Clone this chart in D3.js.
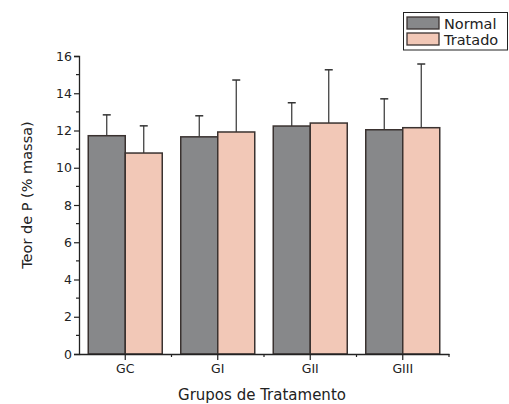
<!DOCTYPE html>
<html><head><meta charset="utf-8">
<script src="https://cdn.jsdelivr.net/npm/d3@7"></script>
<style>body{margin:0;background:#fff}svg{display:block}text{font-family:"DejaVu Sans",sans-serif;fill:#222}</style>
</head><body><svg id="c" width="509" height="404"></svg>
<script>
const categories = ["GC","GI","GII","GIII"];
const seriesNames = ["Normal","Tratado"];
const normalValues = [11.72, 11.66, 12.24, 12.04];
const normalErrors = [1.12, 1.13, 1.25, 1.66];
const tratadoValues = [10.79, 11.92, 12.40, 12.15];
const tratadoErrors = [1.46, 2.79, 2.86, 3.42];
const yTicks = [0,2,4,6,8,10,12,14,16];
const colors = ["#87888a","#f2c8b7"];

const svg = d3.select("#c");
const L = 79, R = 449, T = 56, B = 354;
const x = d3.scaleBand().domain(categories).range([L, R]).paddingInner(0).paddingOuter(0);
const xs = d3.scaleBand().domain(seriesNames).range([0, x.bandwidth()]).paddingInner(0).paddingOuter(0.25);
const y = d3.scaleLinear().domain([0,16]).range([B, T]);

const data = categories.map((c,i)=>({c, vals:[
  {s:"Normal", v:normalValues[i], e:normalErrors[i]},
  {s:"Tratado", v:tratadoValues[i], e:tratadoErrors[i]}]}));

const g = svg.append("g");
const grp = g.selectAll("g.grp").data(data).join("g").attr("transform", d=>`translate(${x(d.c)},0)`);
grp.selectAll("g.err").data(d=>d.vals).join("g").each(function(d){
  const cx = xs(d.s) + xs.bandwidth()/2;
  const s = d3.select(this);
  s.append("line").attr("x1",cx).attr("x2",cx).attr("y1",y(d.v)).attr("y2",y(d.v+d.e)).attr("stroke","#333").attr("stroke-width",1.2);
  s.append("line").attr("x1",cx-4).attr("x2",cx+4).attr("y1",y(d.v+d.e)).attr("y2",y(d.v+d.e)).attr("stroke","#333").attr("stroke-width",1.5);
});
grp.selectAll("rect").data(d=>d.vals).join("rect")
  .attr("x", d=>xs(d.s)).attr("width", xs.bandwidth())
  .attr("y", d=>y(d.v)).attr("height", d=>B - y(d.v))
  .attr("fill", (d,i)=>colors[i]).attr("stroke","#3a3230").attr("stroke-width",1.5);

const yAx = svg.append("g").attr("transform",`translate(${L},0)`)
  .call(d3.axisLeft(y).tickValues(yTicks).tickSize(5).tickPadding(2).tickFormat(d3.format("d")));
yAx.select(".domain").attr("stroke","#222").attr("stroke-width",1.3);
yAx.selectAll(".tick line").attr("stroke","#222").attr("stroke-width",1.2);
yAx.selectAll("text").style("font-size","12.5px").attr("fill","#222");
const yMinor = d3.range(1,16,2);
svg.append("g").selectAll("line").data(yMinor).join("line")
  .attr("x1",L-3).attr("x2",L).attr("y1",d=>y(d)).attr("y2",d=>y(d)).attr("stroke","#222").attr("stroke-width",1.2);

const xAx = svg.append("g").attr("transform",`translate(0,${B})`)
  .call(d3.axisBottom(x).tickSize(6).tickSizeOuter(0).tickPadding(4));
xAx.select(".domain").attr("stroke","#222").attr("stroke-width",1.3);
xAx.selectAll(".tick line").attr("stroke","#222").attr("stroke-width",1.2);
xAx.selectAll("text").style("font-size","12.5px").attr("fill","#222");
const xMinor = categories.map(c=>x(c)).slice(1).concat([R]);
svg.append("g").selectAll("line").data(xMinor).join("line")
  .attr("x1",d=>d).attr("x2",d=>d).attr("y1",B).attr("y2",B+3).attr("stroke","#222").attr("stroke-width",1.2);

svg.append("text").attr("x",262).attr("y",400).attr("text-anchor","middle").style("font-size","15px").text("Grupos de Tratamento");
svg.append("text").attr("transform",`translate(32,195) rotate(-90)`).attr("text-anchor","middle").style("font-size","14.5px").text("Teor de P (% massa)");

const lg = svg.append("g");
lg.append("rect").attr("x",403.5).attr("y",12.5).attr("width",104).attr("height",37.5).attr("fill","#fff").attr("stroke","#222").attr("stroke-width",1);
seriesNames.forEach((s,i)=>{
  const yy = 17 + i*16;
  lg.append("rect").attr("x",407).attr("y",yy).attr("width",32).attr("height",12).attr("fill",colors[i]).attr("stroke","#3a3230").attr("stroke-width",1.3);
  lg.append("text").attr("x",444).attr("y",yy+11.5).style("font-size","14.5px").text(s);
});
</script></body></html>
